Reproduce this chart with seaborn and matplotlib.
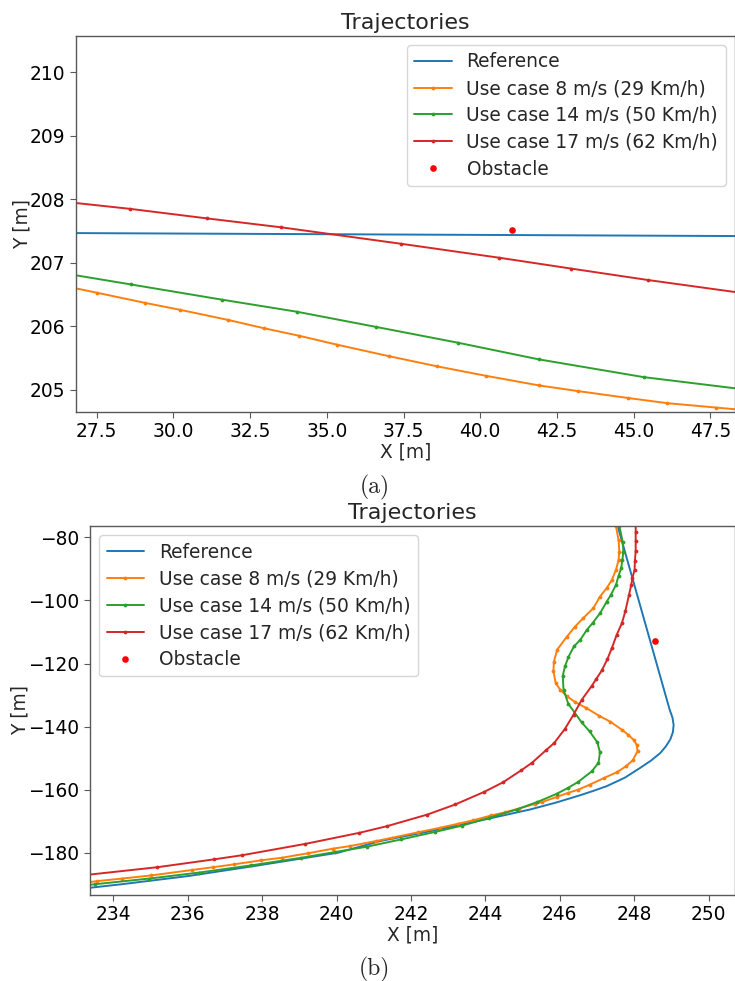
import matplotlib
matplotlib.use("Agg")
import matplotlib.pyplot as plt
import seaborn as sns

# ---------------- data: panel (a) ----------------
a_ref_x = [26.0, 49.0]
a_ref_y = [207.47, 207.42]

a_v8_x = [25.9, 27.50, 29.07, 30.22, 31.79, 32.95, 34.11, 35.34, 37.02, 38.59, 40.19,
          41.90, 43.18, 44.83, 46.08, 47.69, 49.3]
a_v8_y = [206.69, 206.53, 206.37, 206.26, 206.10, 205.97, 205.85, 205.71, 205.53, 205.37,
          205.22, 205.07, 204.98, 204.87, 204.79, 204.72, 204.65]

a_v14_x = [26.0, 28.61, 31.58, 34.02, 36.61, 39.29, 41.90, 45.32, 48.7]
a_v14_y = [206.87, 206.66, 206.42, 206.23, 205.99, 205.74, 205.48, 205.20, 205.00]

a_v17_x = [26.1, 28.59, 31.09, 33.50, 37.42, 40.62, 42.95, 45.45, 48.6]
a_v17_y = [207.98, 207.85, 207.70, 207.56, 207.30, 207.08, 206.91, 206.73, 206.52]

a_obs_x = [41.05]
a_obs_y = [207.51]

# ---------------- data: panel (b) ----------------
b_ref_x = [233.0, 234.22, 236.01, 237.80, 240.04, 241.17, 242.51, 243.86, 245.20, 245.90,
           246.54, 246.90, 247.26, 247.75, 248.16, 248.45, 248.70, 248.85, 248.97, 249.04,
           249.06, 249.03, 248.95, 247.45]
b_ref_y = [-191.6, -190.0, -187.4, -184.2, -180.0, -176.3, -173.2, -169.8, -166.3, -164.1,
           -161.8, -160.4, -158.9, -156.2, -153.1, -150.8, -148.4, -146.3, -144.1, -141.8,
           -139.5, -137.2, -134.5, -72.0]

b_v8_x = [232.9, 233.57, 234.23, 235.02, 236.10, 236.68, 237.24, 237.98, 238.53, 239.22,
          239.91, 240.36, 241.06, 241.48, 242.20, 242.78, 243.27, 243.68, 244.15, 244.53,
          244.89, 245.34, 245.53, 245.92, 246.23, 246.50, 246.81, 247.19, 247.53, 247.78,
          247.96, 248.09, 248.07, 248.00, 247.84, 247.67, 247.35, 247.06, 246.71, 246.41,
          246.19, 246.01, 245.89, 245.83, 245.84, 245.93, 246.19, 246.41, 246.63, 246.90,
          247.08, 247.26, 247.40, 247.51, 247.58, 247.60, 247.58, 247.51, 247.49]
b_v8_y = [-190.0, -189.0, -188.2, -187.2, -185.5, -184.6, -183.7, -182.4, -181.6, -180.2,
          -178.7, -177.9, -176.3, -175.3, -173.5, -172.1, -170.8, -169.7, -168.2, -167.2,
          -166.0, -164.5, -163.9, -162.3, -161.0, -160.0, -158.4, -156.3, -154.5, -152.6,
          -150.7, -147.8, -145.9, -144.4, -142.6, -141.0, -138.4, -136.6, -134.1, -132.2,
          -130.4, -128.3, -126.2, -122.5, -119.5, -115.6, -111.5, -108.3, -105.6, -102.5,
          -98.8, -96.1, -93.5, -90.3, -87.2, -84.6, -80.9, -76.4, -74.0]

b_v14_x = [232.5, 233.50, 234.96, 236.30, 237.71, 239.05, 239.95, 240.81, 241.73, 242.65,
           243.38, 244.11, 244.84, 245.40, 245.92, 246.23, 246.50, 246.86, 247.04, 247.08,
           247.01, 246.80, 246.59, 246.23, 246.10, 246.08, 246.14, 246.23, 246.38, 246.55,
           246.73, 246.88, 247.08, 247.26, 247.37, 247.51, 247.58, 247.65, 247.68, 247.71,
           247.69, 247.60, 247.58]
b_v14_y = [-191.2, -190.0, -188.2, -186.3, -184.0, -181.6, -179.8, -178.1, -175.8, -173.4,
           -171.4, -168.9, -166.3, -163.9, -161.3, -159.4, -157.5, -154.2, -151.5, -148.2,
           -145.0, -141.5, -138.7, -132.8, -128.3, -123.9, -120.9, -118.0, -114.6, -112.5,
           -109.3, -107.2, -104.1, -100.4, -98.3, -95.1, -92.2, -89.8, -87.2, -84.6,
           -81.4, -76.4, -74.0]

b_v17_x = [233.0, 235.18, 236.71, 237.46, 239.16, 240.61, 241.35, 242.44, 243.19, 243.97,
           244.47, 244.96, 245.25, 245.63, 245.85, 246.14, 246.37, 246.59, 246.86, 246.98,
           247.13, 247.28, 247.40, 247.53, 247.67, 247.76, 247.86, 247.92, 247.95, 248.01,
           248.02, 248.04, 248.04, 248.04, 248.04]
b_v17_y = [-187.4, -184.6, -182.1, -180.8, -177.2, -173.7, -171.6, -167.9, -164.7, -160.7,
           -157.7, -153.9, -151.5, -147.5, -145.2, -140.7, -136.2, -131.5, -127.1, -124.9,
           -122.2, -118.6, -115.1, -110.9, -107.2, -103.5, -98.3, -95.1, -93.0, -90.3,
           -87.4, -84.2, -81.1, -78.2, -74.0]

b_obs_x = [248.56]
b_obs_y = [-113.0]

labels = ["Reference", "Use case 8 m/s (29 Km/h)", "Use case 14 m/s (50 Km/h)",
          "Use case 17 m/s (62 Km/h)", "Obstacle"]
colors = ["#1f77b4", "#ff7f0e", "#2ca02c", "#d62728"]

# ---------------- style ----------------
sns.set_style("white")
plt.rcParams["font.family"] = ["DejaVu Sans"]
plt.rcParams["axes.edgecolor"] = "0.35"
plt.rcParams["axes.linewidth"] = 1.0
plt.rcParams["xtick.bottom"] = True
plt.rcParams["ytick.left"] = True
plt.rcParams["xtick.color"] = "0.35"
plt.rcParams["ytick.color"] = "0.35"
plt.rcParams["xtick.labelcolor"] = "black"
plt.rcParams["ytick.labelcolor"] = "black"
plt.rcParams["xtick.major.size"] = 4
plt.rcParams["ytick.major.size"] = 4

FS = 13.4

fig = plt.figure(figsize=(7.35, 9.81), dpi=100)
ax1 = fig.add_axes([0.1034, 0.5800, 0.8966, 0.3838])
ax2 = fig.add_axes([0.1224, 0.0877, 0.8776, 0.3761])


def draw(ax, series, obs):
    for i, (xs, ys) in enumerate(series):
        if i == 0:
            sns.lineplot(x=xs, y=ys, ax=ax, sort=False, estimator=None, color=colors[i],
                         linewidth=1.4, label=labels[i])
        else:
            sns.lineplot(x=xs, y=ys, ax=ax, sort=False, estimator=None, color=colors[i],
                         linewidth=1.4, marker=".", markersize=5.5, markeredgewidth=0,
                         label=labels[i])
    sns.lineplot(x=obs[0], y=obs[1], ax=ax, color="red", linestyle="", marker="o",
                 markersize=4.8, markeredgewidth=0, label=labels[4])
    ax.set_title("Trajectories", fontsize=16, pad=5)
    ax.set_xlabel("X [m]", fontsize=FS, labelpad=1)
    ax.set_ylabel("Y [m]", fontsize=FS, labelpad=-1)
    ax.tick_params(labelsize=FS)


draw(ax1, [(a_ref_x, a_ref_y), (a_v8_x, a_v8_y), (a_v14_x, a_v14_y), (a_v17_x, a_v17_y)],
     (a_obs_x, a_obs_y))
ax1.set_xlim(26.83, 48.3)
ax1.set_ylim(204.65, 210.58)
ax1.set_xticks([27.5, 30.0, 32.5, 35.0, 37.5, 40.0, 42.5, 45.0, 47.5])
ax1.set_xticklabels(["27.5", "30.0", "32.5", "35.0", "37.5", "40.0", "42.5", "45.0", "47.5"])
ax1.set_yticks([205, 206, 207, 208, 209, 210])
ax1.legend(loc="upper right", fontsize=FS, handlelength=2.0, labelspacing=0.42)

draw(ax2, [(b_ref_x, b_ref_y), (b_v8_x, b_v8_y), (b_v14_x, b_v14_y), (b_v17_x, b_v17_y)],
     (b_obs_x, b_obs_y))
ax2.set_xlim(233.37, 250.71)
ax2.set_ylim(-193.4, -76.4)
ax2.set_xticks([234, 236, 238, 240, 242, 244, 246, 248, 250])
ax2.set_yticks([-180, -160, -140, -120, -100, -80])
ax2.legend(loc="upper left", fontsize=FS, handlelength=2.0, labelspacing=0.42)

fig.text(0.51, 1 - 487 / 981, "(a)", family="cmr10", fontsize=17, ha="center", va="center")
fig.text(0.51, 1 - 969 / 981, "(b)", family="cmr10", fontsize=17, ha="center", va="center")

fig.savefig("out.png", dpi=100)
